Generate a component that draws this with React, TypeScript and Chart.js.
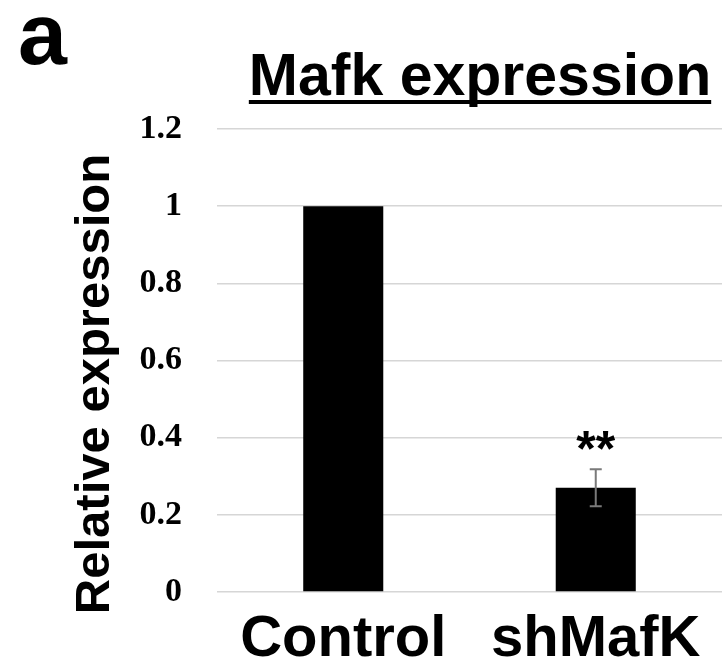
import React, { useEffect, useRef } from "react";
import { Chart, registerables } from "chart.js";

Chart.register(...registerables);

const categories = ["Control", "shMafK"];
const values = [1.0, 0.27];
const errors = [0, 0.048];
const significance = ["", "**"];
const yTicks = [0, 0.2, 0.4, 0.6, 0.8, 1, 1.2];
const yTickLabels = ["0", "0.2", "0.4", "0.6", "0.8", "1", "1.2"];
const chartTitle = "Mafk expression";
const yAxisTitle = "Relative expression";
const panelLabel = "a";

const SANS = '"Liberation Sans", Arial, sans-serif';
const SERIF = '"Liberation Serif", "Times New Roman", serif';

const annotationPlugin = {
  id: "annotations",
  afterDatasetsDraw(chart: any) {
    const ctx = chart.ctx;
    const xs = chart.scales.x;
    const ys = chart.scales.y;
    ctx.save();
    // error bars
    values.forEach((v, i) => {
      const e = errors[i];
      const x = xs.getPixelForValue(i);
      if (e > 0) {
        const yTop = ys.getPixelForValue(v + e);
        const yBot = ys.getPixelForValue(v - e);
        ctx.strokeStyle = "#7a7a7a";
        ctx.lineWidth = 2;
        ctx.beginPath();
        ctx.moveTo(x, yTop);
        ctx.lineTo(x, yBot);
        ctx.moveTo(x - 6, yTop);
        ctx.lineTo(x + 6, yTop);
        ctx.moveTo(x - 6, yBot);
        ctx.lineTo(x + 6, yBot);
        ctx.stroke();
      }
      if (significance[i]) {
        const yTop = ys.getPixelForValue(v + e);
        ctx.fillStyle = "#000";
        ctx.font = `bold 50px ${SANS}`;
        ctx.textAlign = "center";
        ctx.textBaseline = "alphabetic";
        ctx.fillText(significance[i], x, yTop - 3);
      }
    });
    ctx.restore();
  },
  afterDraw(chart: any) {
    const ctx = chart.ctx;
    ctx.save();
    ctx.fillStyle = "#000";
    // panel label
    ctx.font = `bold 88px ${SANS}`;
    ctx.textAlign = "left";
    ctx.textBaseline = "alphabetic";
    ctx.fillText(panelLabel, 18, 64);
    // title
    ctx.font = `bold 59px ${SANS}`;
    ctx.textAlign = "center";
    const cx = 480;
    ctx.fillText(chartTitle, cx, 95);
    const w = ctx.measureText(chartTitle).width;
    ctx.fillRect(cx - w / 2, 100, w, 4);
    // y axis title
    ctx.translate(95, 384);
    ctx.rotate(-Math.PI / 2);
    ctx.font = `bold 49px ${SANS}`;
    ctx.textAlign = "center";
    ctx.textBaseline = "middle";
    ctx.fillText(yAxisTitle, 0, 0);
    ctx.restore();
  },
};

export default function App() {
  const ref = useRef<HTMLCanvasElement>(null);
  useEffect(() => {
    document.body.style.margin = "0";
    if (!ref.current) return;
    const chart = new Chart(ref.current, {
      type: "bar",
      data: {
        labels: categories,
        datasets: [
          {
            data: values,
            backgroundColor: "#000000",
            borderWidth: 0,
            barPercentage: 0.317,
            categoryPercentage: 1,
          },
        ],
      },
      options: {
        responsive: false,
        animation: false,
        layout: { padding: { top: 129, left: 0, right: 3, bottom: 0 } },
        plugins: {
          legend: { display: false },
          tooltip: { enabled: false },
          title: { display: false },
        },
        scales: {
          x: {
            grid: { display: false },
            border: { display: false },
            ticks: {
              color: "#000",
              font: { family: SANS, weight: "bold", size: 58 },
              padding: 5,
              maxRotation: 0,
              autoSkip: false,
            },
            afterFit: (scale: any) => {
              scale.height = 68;
            },
          },
          y: {
            min: 0,
            max: 1.2,
            border: { display: false },
            grid: { color: "#d6d6d6", lineWidth: 1.5, drawTicks: false },
            afterBuildTicks: (scale: any) => {
              scale.ticks = yTicks.map((v) => ({ value: v }));
            },
            ticks: {
              color: "#000",
              font: { family: SERIF, weight: "bold", size: 34 },
              padding: 35,
              callback: (_v: any, i: number) => yTickLabels[i],
            },
            afterFit: (scale: any) => {
              scale.width = 217;
            },
          },
        },
      },
      plugins: [annotationPlugin],
    });
    return () => chart.destroy();
  }, []);
  return (
    <div style={{ width: 725, height: 660, background: "#fff" }}>
      <canvas ref={ref} width={725} height={660} style={{ display: "block" }} />
    </div>
  );
}
